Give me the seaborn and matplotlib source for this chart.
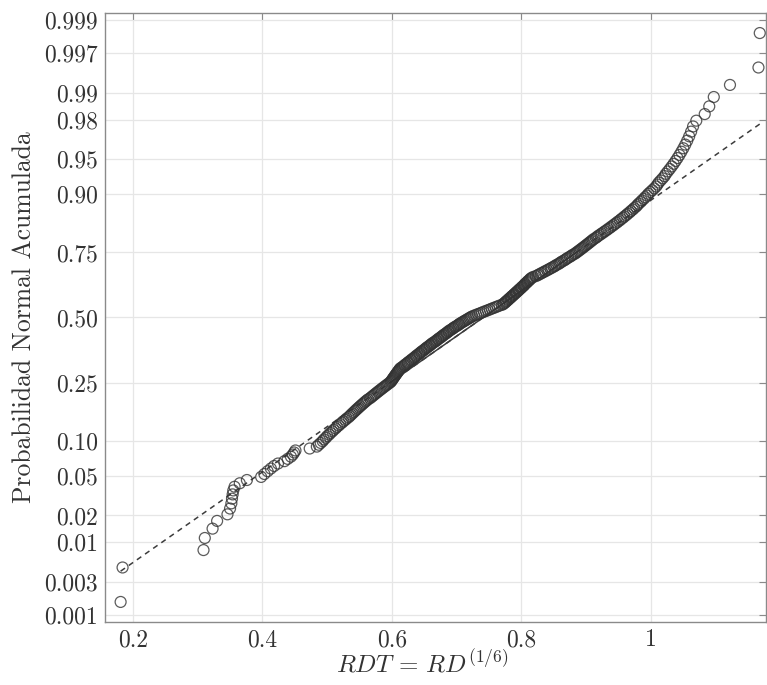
import numpy as np
import pandas as pd
import matplotlib
matplotlib.use("Agg")
import matplotlib.pyplot as plt
import seaborn as sns
from statistics import NormalDist

# sorted sample values RDT = RD^(1/6)
rdt = [
    0.181, 0.184, 0.309, 0.311, 0.323, 0.330, 0.346, 0.350, 0.352, 0.353,
    0.354, 0.355, 0.357, 0.365, 0.376, 0.398, 0.403, 0.408, 0.413, 0.418,
    0.424, 0.434, 0.439, 0.444, 0.447, 0.449, 0.451, 0.473, 0.484, 0.487,
    0.490, 0.493,
    0.495, 0.498, 0.500, 0.503, 0.505, 0.508, 0.510, 0.513, 0.515, 0.518,
    0.520, 0.523, 0.525, 0.528, 0.530, 0.533,
    0.535, 0.537, 0.539, 0.541, 0.543, 0.545, 0.547, 0.549, 0.551, 0.553,
    0.555, 0.557, 0.559, 0.561, 0.563, 0.566,
    0.568, 0.570, 0.572, 0.574, 0.576, 0.578, 0.580, 0.582, 0.584, 0.586,
    0.588, 0.590, 0.592, 0.594, 0.596, 0.598,
    0.599, 0.600, 0.601, 0.602, 0.603, 0.604, 0.605, 0.606, 0.607, 0.608,
    0.609, 0.610, 0.611, 0.612, 0.613, 0.615,
    0.617, 0.619, 0.620, 0.622, 0.624, 0.625, 0.627, 0.629, 0.630, 0.632,
    0.634, 0.635, 0.637, 0.638, 0.640,
    0.642, 0.643, 0.645, 0.646, 0.648, 0.650, 0.651, 0.653, 0.654, 0.656,
    0.658, 0.659, 0.661, 0.662, 0.664, 0.666,
    0.668, 0.669, 0.671, 0.672, 0.674, 0.676, 0.677, 0.679, 0.680, 0.682,
    0.684, 0.685, 0.687, 0.688, 0.690, 0.692,
    0.694, 0.695, 0.697, 0.699, 0.701, 0.703, 0.704, 0.706, 0.708, 0.710,
    0.712, 0.714, 0.716, 0.718, 0.720, 0.722,
    0.724, 0.727, 0.730, 0.733, 0.736, 0.739, 0.742, 0.745, 0.748, 0.751,
    0.754, 0.757, 0.760, 0.763, 0.766, 0.770,
    0.772, 0.773, 0.775, 0.776, 0.777, 0.779, 0.780, 0.781, 0.783, 0.784,
    0.785, 0.787, 0.788, 0.789, 0.791, 0.792, 0.793, 0.795, 0.796, 0.797,
    0.799, 0.800, 0.801, 0.803,
    0.804, 0.805, 0.806, 0.808, 0.809, 0.810, 0.812, 0.813, 0.814, 0.816,
    0.818,
    0.822, 0.825, 0.827, 0.830, 0.832, 0.835, 0.837, 0.840, 0.842, 0.845,
    0.847, 0.850,
    0.852, 0.854, 0.857, 0.859, 0.861, 0.863, 0.866, 0.868, 0.870, 0.872,
    0.875, 0.877, 0.879, 0.882, 0.884,
    0.886, 0.888, 0.890, 0.892, 0.894, 0.896, 0.898, 0.900, 0.902, 0.904,
    0.906, 0.908, 0.910, 0.912, 0.915, 0.917,
    0.919, 0.922, 0.924, 0.927, 0.929, 0.932, 0.934, 0.937, 0.939, 0.942,
    0.944, 0.947, 0.949, 0.952, 0.954, 0.957,
    0.959, 0.962, 0.964, 0.967, 0.969, 0.972, 0.974, 0.977, 0.979, 0.981,
    0.984, 0.986, 0.989, 0.991, 0.994, 0.996,
    0.999, 1.002, 1.005, 1.008, 1.010, 1.012, 1.015, 1.018, 1.021, 1.023,
    1.026, 1.029, 1.032, 1.035, 1.038, 1.041, 1.044, 1.047, 1.050, 1.053,
    1.056, 1.059, 1.062, 1.065, 1.070, 1.083, 1.090, 1.097, 1.122, 1.166,
    1.168,
]

prob_ticks = [0.001, 0.003, 0.01, 0.02, 0.05, 0.10, 0.25, 0.50,
              0.75, 0.90, 0.95, 0.98, 0.99, 0.997, 0.999]
prob_labels = ["0.001", "0.003", "0.01", "0.02", "0.05", "0.10", "0.25", "0.50",
               "0.75", "0.90", "0.95", "0.98", "0.99", "0.997", "0.999"]
x_ticks = [0.2, 0.4, 0.6, 0.8, 1.0]
x_labels = ["0.2", "0.4", "0.6", "0.8", "1"]

nd = NormalDist()
n = len(rdt)
x = np.sort(np.array(rdt))
pp = (np.arange(1, n + 1) - 0.5) / n          # plotting positions, as normplot
z = np.array([nd.inv_cdf(p) for p in pp])
df = pd.DataFrame({"rdt": x, "z": z})

# reference line through the quartiles
q1, q3 = np.percentile(x, [25, 75])
zq1, zq3 = nd.inv_cdf(0.25), nd.inv_cdf(0.75)
slope = (zq3 - zq1) / (q3 - q1)
line = lambda v: zq1 + slope * (np.asarray(v) - q1)

sns.set_style("white")
plt.rcParams["font.family"] = "serif"
plt.rcParams["font.serif"] = ["cmr10", "DejaVu Serif"]
plt.rcParams["mathtext.fontset"] = "cm"
plt.rcParams["axes.unicode_minus"] = False

fig = plt.figure(figsize=(7.67, 6.85), dpi=100)
ax = fig.add_axes([0.137, 0.092, 0.862, 0.889])

ax.grid(True, color="#e6e6e6", linewidth=0.9)
ax.set_axisbelow(True)

ends = np.array([x.min(), x.max()])
ax.plot(ends, line(ends), linestyle=(0, (3.5, 3)), color="#3c3c3c", linewidth=1.1, zorder=2)
mids = np.array([q1, q3])
ax.plot(mids, line(mids), linestyle="-", color="#3c3c3c", linewidth=1.1, zorder=2)

sns.scatterplot(data=df, x="rdt", y="z", ax=ax, marker="o", s=62,
                facecolor="none", edgecolor="#333333", linewidth=0.9,
                alpha=0.8, zorder=3, legend=False)

zlim = nd.inv_cdf(0.25 / n)
ax.set_ylim(zlim, -zlim)
ax.set_xlim(0.157, 1.178)
ax.set_yticks([nd.inv_cdf(p) for p in prob_ticks], prob_labels)
ax.set_xticks(x_ticks, x_labels)

for side in ["left", "bottom", "top", "right"]:
    ax.spines[side].set_color("#8a8a8a")
    ax.spines[side].set_linewidth(1.0)
ax.tick_params(direction="in", length=5, width=0.8, color="#8a8a8a",
               top=True, right=True, labelsize=17, labelcolor="#333333", pad=5)

ax.set_xlabel(r"$RDT\,=\,RD^{(1/6)}$", fontsize=18, color="#333333", labelpad=1)
ax.xaxis.set_label_coords(0.48, -0.045, transform=ax.transAxes)
ax.set_ylabel("Probabilidad Normal Acumulada", fontsize=18.5, color="#333333", labelpad=6)

fig.savefig("out.png", dpi=100)
